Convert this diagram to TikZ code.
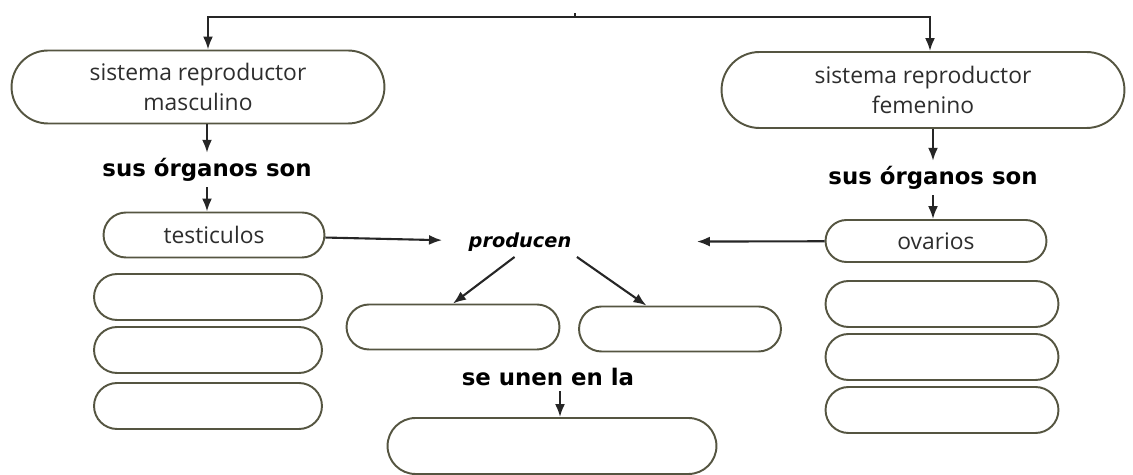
\documentclass[tikz,border=0pt]{standalone}
\usepackage{fontspec}
\setmainfont{Open Sans}
\newfontfamily\rotulo{DejaVu Sans}
\usetikzlibrary{positioning,shapes.misc,arrows.meta}

\definecolor{borde}{RGB}{85,85,65}
\definecolor{tinta}{RGB}{45,45,45}

\tikzset{
  caja/.style={draw=borde, line width=1.1pt, rounded rectangle, align=center,
    text=tinta, font=\fontsize{13}{17}\selectfont, inner sep=2pt},
  vacia/.style={caja, minimum width=4.7cm, minimum height=0.92cm},
  enlace/.style={text=black, font=\rotulo\bfseries\fontsize{13}{16}\selectfont, inner sep=3pt},
  flecha/.style={-{Latex[length=2.6mm,width=2mm]}, line width=1.2pt, black!85}
}

\begin{document}
\begin{tikzpicture}[x=0.02cm, y=-0.02cm]

\useasboundingbox (0,0) rectangle (1133,475);

% Sistemas
\node[caja, minimum width=7.6cm, minimum height=1.46cm] (masc) at (198,87)
  {sistema reproductor\\masculino};
\node[caja, minimum width=8.2cm, minimum height=1.52cm] (fem) at (923,90)
  {sistema reproductor\\femenino};

% Linea superior
\coordinate (arriba) at (575,17);
\draw[line width=1.2pt, black!85] (arriba) -- ++(0,-4);
\draw[flecha] (arriba) -| ([xshift=0.2cm]masc.north);
\draw[flecha] (arriba) -| ([xshift=0.14cm]fem.north);

% Organos
\node[enlace] (orgm) at (207,170) {sus órganos son};
\node[enlace] (orgf) at (933,178) {sus órganos son};
\draw[flecha] (masc.south -| orgm.north) -- (orgm.north);
\draw[flecha] (fem.south -| orgf.north) -- (orgf.north);

\node[caja, minimum width=4.56cm, minimum height=0.9cm] (testic) at (214,235) {testiculos};
\node[caja, minimum width=4.56cm, minimum height=0.84cm] (ovarios) at (936,241) {ovarios};
\draw[flecha] (orgm.south) -- (orgm.south |- testic.north);
\draw[flecha] (orgf.south) -- (orgf.south |- ovarios.north);

% Cajas vacias
\foreach \n/\y in {1/297,2/350,3/406} {
    \node[vacia] (m\n) at (208,\y) {};
}
\foreach \n/\y in {1/304,2/357,3/410} {
    \node[vacia, minimum width=4.8cm] (f\n) at (942,\y) {};
}

% Producen
\node[enlace, font=\rotulo\bfseries\itshape\fontsize{11}{13}\selectfont] (producen) at (520,242) {producen};
\draw[flecha, shorten >=12pt] (testic) -- (producen);
\draw[flecha, shorten >=2.4cm] (ovarios) -- (producen);

\node[caja, minimum width=4.4cm, minimum height=0.9cm] (gam1) at (453,327) {};
\node[caja, minimum width=4.18cm, minimum height=0.9cm] (gam2) at (680,329) {};
\draw[flecha] (producen.250) -- (gam1.north);
\draw[flecha] (producen.south east) -- (gam2);

% Se unen
\node[enlace, font=\rotulo\bfseries\fontsize{13}{16}\selectfont] (unen) at (548,377) {se unen en la};
\node[caja, minimum width=6.72cm, minimum height=1.12cm] (cigoto) at (552,446) {};
\draw[flecha] ([xshift=0.16cm]unen.south -| cigoto.north) -- ([xshift=0.16cm]cigoto.north);

\end{tikzpicture}
\end{document}
